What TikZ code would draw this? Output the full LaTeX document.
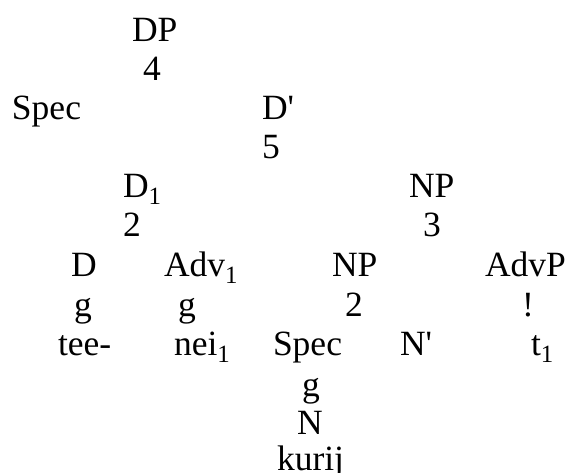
\documentclass[tikz,border=0pt]{standalone}
\usepackage{fontspec}
\setmainfont{Liberation Serif}[Ligatures=TeXOff]
\begin{document}
\begin{tikzpicture}[x=1pt,y=-1pt,
  lab/.style={anchor=base west,inner sep=0pt,outer sep=0pt,font=\fontsize{35.5}{40}\selectfont}]
\useasboundingbox (0,0) rectangle (569,472);
\node[lab] (dp) at (132,41) {DP};
\node[lab] (b1) at (143,80) {4};
\node[lab] (spec1) at (12,119) {Spec};
\node[lab] (dbar) at (262,119) {D'};
\node[lab] (b2) at (262,158) {5};
\node[lab] (d1) at (123,197) {D\textsubscript{1}};
\node[lab] (np1) at (409,197) {NP};
\node[lab] (b3) at (123,236) {2};
\node[lab] (b4) at (423,236) {3};
\node[lab] (d) at (71,276) {D};
\node[lab] (adv) at (164,276) {Adv\textsubscript{1}};
\node[lab] (np2) at (332,276) {NP};
\node[lab] (advp) at (485,276) {AdvP};
\node[lab] (g1) at (74,316) {g};
\node[lab] (g2) at (178,316) {g};
\node[lab] (b5) at (345,316) {2};
\node[lab] (ex) at (522,316) {!};
\node[lab] (tee) at (58,355) {tee-};
\node[lab] (nei) at (174,355) {nei\textsubscript{1}};
\node[lab] (spec2) at (273,355) {Spec};
\node[lab] (nbar) at (400,355) {N'};
\node[lab] (t) at (531,355) {t\textsubscript{1}};
\node[lab] (g3) at (302,396) {g};
\node[lab] (n) at (297,434) {N};
\node[lab] (kurij) at (277,470) {kurij};
\end{tikzpicture}
\end{document}
